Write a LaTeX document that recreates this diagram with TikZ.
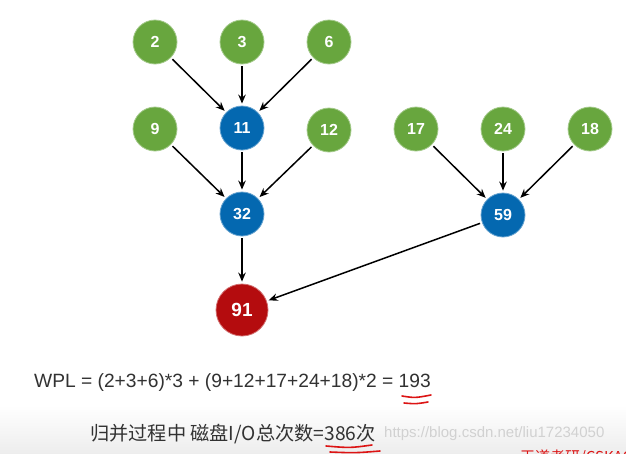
\documentclass[tikz,border=0pt]{standalone}
\usepackage{fontspec}
\setmainfont{Liberation Sans}
\newfontfamily\cjk{Noto Sans CJK SC}
\usetikzlibrary{arrows.meta}
\definecolor{leafgreen}{RGB}{104,166,62}
\definecolor{midblue}{RGB}{4,104,176}
\definecolor{rootred}{RGB}{180,12,14}
\definecolor{txtgray}{RGB}{50,50,50}
\definecolor{markred}{RGB}{220,20,20}
\begin{document}
\begin{tikzpicture}[x=1pt,y=-1pt,
  leaf/.style={circle,fill=leafgreen,draw=leafgreen!60!white,line width=0.8pt,minimum size=44pt,inner sep=0pt,text=white,font=\bfseries\fontsize{16}{16}\selectfont},
  mid/.style={leaf,fill=midblue,draw=midblue!60!white},
  rootn/.style={leaf,fill=rootred,draw=rootred!60!white,minimum size=52pt,font=\bfseries\fontsize{19}{19}\selectfont},
  arr/.style={-{Stealth[length=9pt,width=7.5pt]},line width=1.5pt,black,shorten >=2pt,shorten <=2pt},
  redmark/.style={markred,line width=1.6pt,line cap=round}]
\useasboundingbox (0,0) rectangle (626,453);
\fill[white] (0,0) rectangle (626,453);
\shade[top color=white,bottom color=black!7] (0,405) rectangle (626,453);
% nodes
\node[leaf] (n2) at (155,42) {2};
\node[leaf] (n3) at (242,42) {3};
\node[leaf] (n6) at (329,42) {6};
\node[leaf] (n9) at (155,129) {9};
\node[mid] (n11) at (242,128) {11};
\node[leaf] (n12) at (329,130) {12};
\node[leaf] (n17) at (416,129) {17};
\node[leaf] (n24) at (503,129) {24};
\node[leaf] (n18) at (590,129) {18};
\node[mid] (n32) at (242,214) {32};
\node[mid] (n59) at (503,215) {59};
\node[rootn] (n91) at (242,310) {91};
% edges
\draw[arr] (n2) -- (n11);
\draw[arr] (n3) -- (n11);
\draw[arr] (n6) -- (n11);
\draw[arr] (n9) -- (n32);
\draw[arr] (n11) -- (n32);
\draw[arr] (n12) -- (n32);
\draw[arr] (n17) -- (n59);
\draw[arr] (n24) -- (n59);
\draw[arr] (n18) -- (n59);
\draw[arr] (n32) -- (n91);
\draw[arr] (n59) -- (n91);
% texts
\node[anchor=west,text=txtgray,font=\fontsize{19.2}{21}\selectfont,inner sep=0pt] (wpl) at (34,383) {WPL = (2+3+6)*3 + (9+12+17+24+18)*2 = 193};
\node[anchor=west,text=txtgray,font=\cjk\fontsize{19.2}{21}\selectfont,inner sep=0pt] (io) at (90,434) {归并过程中 磁盘I/O总次数=386次};
\node[anchor=west,text=black!18,font=\fontsize{15}{18}\selectfont,inner sep=0pt] (wm) at (384,434) {https://blog.csdn.net/liu17234050};
\node[anchor=west,text=markred,font=\cjk\fontsize{15}{18}\selectfont,inner sep=0pt] (wd) at (520,458) {王道考研/CSKAOYAN};
% red marks
\coordinate (a1) at (402,396);
\coordinate (a2) at (431,395);
\coordinate (b1) at (404,403);
\coordinate (b2) at (428,402);
\draw[redmark] (a1) .. controls (415,398) .. (a2);
\draw[redmark] (b1) .. controls (416,404) .. (b2);
\coordinate (c1) at (326,446);
\coordinate (c2) at (372,445);
\coordinate (d1) at (330,452);
\coordinate (d2) at (380,451);
\draw[redmark] (c1) .. controls (350,448) .. (c2);
\draw[redmark] (d1) .. controls (355,453) .. (d2);
\end{tikzpicture}
\end{document}
